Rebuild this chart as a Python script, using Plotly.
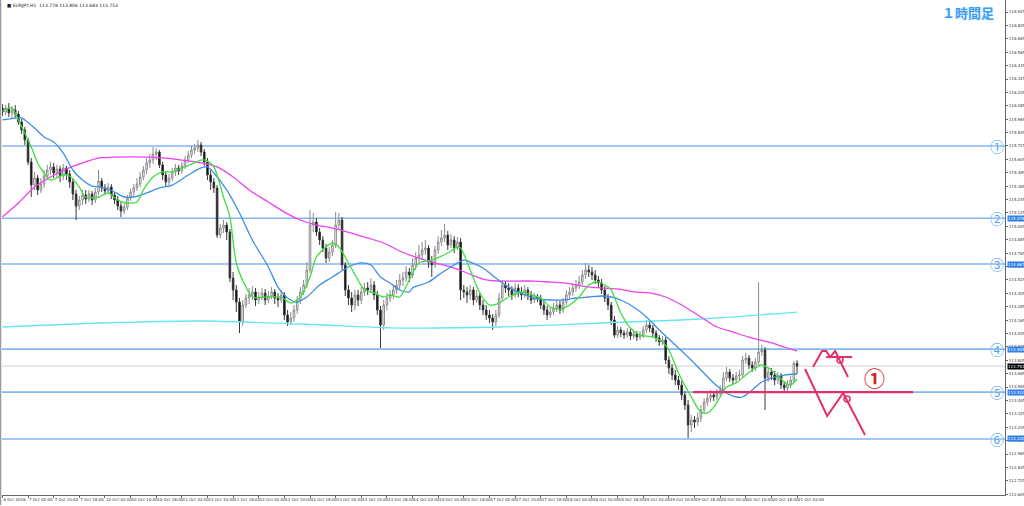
import plotly.graph_objects as go

title_text = "■ EURJPY,H1  113.778 113.806 113.683 113.753"

opens = [116.065, 116.029, 116.065, 116.021, 116.047, 116.012, 115.940, 115.868, 115.779, 115.581,
115.375, 115.438, 115.331, 115.384, 115.456, 115.510, 115.537, 115.483, 115.519, 115.456,
115.528, 115.474, 115.402, 115.295, 115.187, 115.241, 115.286, 115.250, 115.295, 115.241,
115.313, 115.411, 115.349, 115.322, 115.357, 115.286, 115.241, 115.187, 115.142, 115.178,
115.259, 115.313, 115.349, 115.384, 115.447, 115.510, 115.573, 115.599, 115.653, 115.671,
115.555, 115.465, 115.402, 115.438, 115.492, 115.528, 115.501, 115.546, 115.599, 115.644,
115.689, 115.707, 115.734, 115.671, 115.581, 115.465, 115.402, 115.349, 114.927, 114.990,
115.017, 114.954, 114.542, 114.435, 114.327, 114.148, 114.300, 114.363, 114.390, 114.417,
114.345, 114.372, 114.408, 114.345, 114.381, 114.417, 114.363, 114.345, 114.390, 114.211,
114.148, 114.184, 114.255, 114.345, 114.417, 114.479, 114.614, 115.017, 115.044, 114.954,
114.883, 114.811, 114.721, 114.775, 114.838, 115.017, 115.062, 114.659, 114.435, 114.363,
114.300, 114.390, 114.345, 114.417, 114.453, 114.435, 114.479, 114.390, 114.255, 114.121,
114.300, 114.363, 114.390, 114.435, 114.479, 114.524, 114.542, 114.596, 114.569, 114.659,
114.721, 114.748, 114.793, 114.811, 114.685, 114.659, 114.793, 114.865, 114.901, 114.927,
114.838, 114.883, 114.811, 114.865, 114.435, 114.417, 114.390, 114.435, 114.345, 114.381,
114.300, 114.255, 114.211, 114.184, 114.148, 114.211, 114.363, 114.479, 114.453, 114.435,
114.390, 114.453, 114.417, 114.390, 114.435, 114.390, 114.345, 114.372, 114.363, 114.300,
114.255, 114.211, 114.237, 114.273, 114.300, 114.255, 114.327, 114.390, 114.417, 114.453,
114.479, 114.506, 114.569, 114.614, 114.596, 114.569, 114.524, 114.497, 114.435, 114.363,
114.300, 114.166, 114.031, 114.076, 114.049, 114.031, 114.058, 114.022, 114.040, 114.013,
114.031, 114.076, 114.121, 114.094, 114.049, 114.005, 113.969, 113.987, 113.807, 113.736,
113.673, 113.628, 113.583, 113.494, 113.404, 113.225, 113.270, 113.252, 113.288, 113.359,
113.431, 113.467, 113.494, 113.476, 113.512, 113.539, 113.646, 113.700, 113.646, 113.628,
113.664, 113.673, 113.807, 113.825, 113.763, 113.736, 113.789, 113.879, 113.897, 113.646,
113.700, 113.673, 113.628, 113.664, 113.583, 113.557, 113.592, 113.628, 113.778]

highs = [116.101, 116.092, 116.110, 116.083, 116.092, 116.038, 115.967, 115.895, 115.797, 115.617,
115.492, 115.465, 115.438, 115.510, 115.555, 115.581, 115.573, 115.555, 115.546, 115.564,
115.546, 115.510, 115.438, 115.331, 115.277, 115.331, 115.331, 115.331, 115.322, 115.349,
115.510, 115.438, 115.384, 115.393, 115.384, 115.313, 115.277, 115.223, 115.214, 115.286,
115.340, 115.384, 115.438, 115.492, 115.546, 115.617, 115.653, 115.716, 115.707, 115.689,
115.581, 115.501, 115.474, 115.528, 115.564, 115.555, 115.581, 115.635, 115.680, 115.725,
115.743, 115.779, 115.761, 115.698, 115.617, 115.510, 115.438, 115.375, 115.026, 115.062,
115.044, 114.981, 114.596, 114.479, 114.363, 114.345, 114.399, 114.453, 114.470, 114.453,
114.417, 114.453, 114.444, 114.426, 114.461, 114.444, 114.408, 114.435, 114.417, 114.255,
114.237, 114.300, 114.381, 114.461, 114.524, 114.685, 115.151, 115.125, 115.080, 114.990,
114.918, 114.847, 114.820, 114.883, 115.133, 115.125, 115.089, 114.685, 114.479, 114.417,
114.435, 114.435, 114.461, 114.497, 114.506, 114.542, 114.515, 114.426, 114.291, 114.345,
114.408, 114.435, 114.479, 114.524, 114.578, 114.596, 114.650, 114.632, 114.721, 114.775,
114.838, 114.865, 114.883, 114.838, 114.739, 114.829, 114.918, 114.972, 115.026, 114.963,
114.936, 114.918, 114.909, 114.901, 114.479, 114.461, 114.479, 114.461, 114.435, 114.417,
114.345, 114.300, 114.255, 114.220, 114.255, 114.408, 114.524, 114.515, 114.497, 114.470,
114.497, 114.488, 114.461, 114.479, 114.461, 114.426, 114.408, 114.399, 114.390, 114.336,
114.291, 114.273, 114.318, 114.345, 114.336, 114.363, 114.435, 114.461, 114.497, 114.524,
114.560, 114.614, 114.677, 114.659, 114.641, 114.614, 114.560, 114.533, 114.470, 114.399,
114.327, 114.202, 114.112, 114.103, 114.076, 114.094, 114.085, 114.067, 114.067, 114.067,
114.112, 114.166, 114.148, 114.121, 114.076, 114.031, 114.022, 114.013, 113.843, 113.772,
113.718, 113.664, 113.619, 113.530, 113.449, 113.315, 113.306, 113.341, 113.404, 113.467,
113.512, 113.539, 113.530, 113.548, 113.583, 113.700, 113.745, 113.727, 113.682, 113.700,
113.718, 113.843, 113.870, 113.852, 113.798, 113.825, 114.506, 113.942, 113.924, 113.736,
113.736, 113.709, 113.700, 113.691, 113.619, 113.628, 113.664, 113.800, 113.806]

lows = [115.994, 116.003, 115.985, 115.976, 115.976, 115.913, 115.832, 115.734, 115.555, 115.268,
115.331, 115.286, 115.304, 115.349, 115.420, 115.465, 115.438, 115.447, 115.402, 115.420,
115.420, 115.349, 115.241, 115.062, 115.151, 115.196, 115.205, 115.223, 115.196, 115.214,
115.286, 115.313, 115.286, 115.295, 115.250, 115.205, 115.151, 115.089, 115.116, 115.151,
115.232, 115.277, 115.322, 115.357, 115.420, 115.474, 115.528, 115.564, 115.599, 115.528,
115.420, 115.366, 115.375, 115.411, 115.456, 115.465, 115.474, 115.519, 115.573, 115.617,
115.653, 115.671, 115.635, 115.546, 115.420, 115.331, 115.304, 114.901, 114.901, 114.945,
114.883, 114.506, 114.345, 114.237, 114.049, 114.112, 114.273, 114.309, 114.345, 114.291,
114.309, 114.345, 114.300, 114.318, 114.354, 114.309, 114.282, 114.318, 114.166, 114.112,
114.121, 114.148, 114.220, 114.309, 114.390, 114.453, 114.587, 114.954, 114.918, 114.838,
114.775, 114.677, 114.685, 114.739, 114.811, 114.972, 114.614, 114.381, 114.300, 114.237,
114.255, 114.291, 114.309, 114.381, 114.390, 114.408, 114.345, 114.211, 113.915, 114.076,
114.255, 114.327, 114.354, 114.399, 114.435, 114.470, 114.506, 114.506, 114.542, 114.614,
114.685, 114.703, 114.748, 114.632, 114.551, 114.632, 114.757, 114.829, 114.865, 114.793,
114.811, 114.766, 114.793, 114.345, 114.363, 114.318, 114.345, 114.300, 114.318, 114.255,
114.211, 114.166, 114.139, 114.076, 114.112, 114.184, 114.336, 114.408, 114.381, 114.345,
114.363, 114.372, 114.345, 114.363, 114.345, 114.309, 114.318, 114.327, 114.264, 114.211,
114.166, 114.184, 114.211, 114.237, 114.220, 114.229, 114.300, 114.363, 114.381, 114.417,
114.444, 114.479, 114.533, 114.551, 114.524, 114.488, 114.453, 114.399, 114.327, 114.255,
114.121, 114.005, 114.005, 114.013, 113.996, 114.005, 113.987, 113.996, 113.978, 113.987,
114.005, 114.049, 114.058, 114.013, 113.969, 113.933, 113.942, 113.772, 113.682, 113.628,
113.583, 113.539, 113.449, 113.359, 113.109, 113.162, 113.198, 113.216, 113.252, 113.333,
113.395, 113.431, 113.440, 113.449, 113.485, 113.521, 113.619, 113.610, 113.592, 113.601,
113.628, 113.646, 113.772, 113.727, 113.700, 113.709, 113.754, 113.843, 113.359, 113.610,
113.628, 113.583, 113.592, 113.548, 113.521, 113.530, 113.557, 113.601, 113.683]

closes = [116.029, 116.065, 116.021, 116.047, 116.012, 115.940, 115.868, 115.779, 115.581, 115.375,
115.438, 115.331, 115.384, 115.456, 115.510, 115.537, 115.483, 115.519, 115.456, 115.528,
115.474, 115.402, 115.295, 115.187, 115.241, 115.286, 115.250, 115.295, 115.241, 115.313,
115.411, 115.349, 115.322, 115.357, 115.286, 115.241, 115.187, 115.142, 115.178, 115.259,
115.313, 115.349, 115.384, 115.447, 115.510, 115.573, 115.599, 115.653, 115.671, 115.555,
115.465, 115.402, 115.438, 115.492, 115.528, 115.501, 115.546, 115.599, 115.644, 115.689,
115.707, 115.734, 115.671, 115.581, 115.465, 115.402, 115.349, 114.927, 114.990, 115.017,
114.954, 114.542, 114.435, 114.327, 114.148, 114.300, 114.363, 114.390, 114.417, 114.345,
114.372, 114.408, 114.345, 114.381, 114.417, 114.363, 114.345, 114.390, 114.211, 114.148,
114.184, 114.255, 114.345, 114.417, 114.479, 114.614, 115.017, 115.044, 114.954, 114.883,
114.811, 114.721, 114.775, 114.838, 115.017, 115.062, 114.659, 114.435, 114.363, 114.300,
114.390, 114.345, 114.417, 114.453, 114.435, 114.479, 114.390, 114.255, 114.121, 114.300,
114.363, 114.390, 114.435, 114.479, 114.524, 114.542, 114.596, 114.569, 114.659, 114.721,
114.748, 114.793, 114.811, 114.685, 114.659, 114.793, 114.865, 114.901, 114.927, 114.838,
114.883, 114.811, 114.865, 114.435, 114.417, 114.390, 114.435, 114.345, 114.381, 114.300,
114.255, 114.211, 114.184, 114.148, 114.211, 114.363, 114.479, 114.453, 114.435, 114.390,
114.453, 114.417, 114.390, 114.435, 114.390, 114.345, 114.372, 114.363, 114.300, 114.255,
114.211, 114.237, 114.273, 114.300, 114.255, 114.327, 114.390, 114.417, 114.453, 114.479,
114.506, 114.569, 114.614, 114.596, 114.569, 114.524, 114.497, 114.435, 114.363, 114.300,
114.166, 114.031, 114.076, 114.049, 114.031, 114.058, 114.022, 114.040, 114.013, 114.031,
114.076, 114.121, 114.094, 114.049, 114.005, 113.969, 113.987, 113.807, 113.736, 113.673,
113.628, 113.583, 113.494, 113.404, 113.225, 113.270, 113.252, 113.288, 113.359, 113.431,
113.467, 113.494, 113.476, 113.512, 113.539, 113.646, 113.700, 113.646, 113.628, 113.664,
113.673, 113.807, 113.825, 113.763, 113.736, 113.789, 113.879, 113.897, 113.646, 113.700,
113.673, 113.628, 113.664, 113.583, 113.557, 113.592, 113.628, 113.778, 113.753]

bars = list(range(len(closes)))

x_tick_bars = list(range(0, 249, 8))
x_tick_labels = ["6 Oct 2016", "7 Oct 02:00", "7 Oct 10:00", "7 Oct 18:00",
                 "10 Oct 02:00", "10 Oct 10:00", "10 Oct 18:00",
                 "11 Oct 02:00", "11 Oct 10:00", "11 Oct 18:00",
                 "12 Oct 02:00", "12 Oct 10:00", "12 Oct 18:00",
                 "13 Oct 02:00", "13 Oct 10:00", "13 Oct 18:00",
                 "14 Oct 02:00", "14 Oct 10:00", "14 Oct 18:00",
                 "17 Oct 02:00", "17 Oct 10:00", "17 Oct 18:00",
                 "18 Oct 02:00", "18 Oct 10:00", "18 Oct 18:00",
                 "19 Oct 02:00", "19 Oct 10:00", "19 Oct 18:00",
                 "20 Oct 02:00", "20 Oct 10:00", "20 Oct 18:00",
                 "21 Oct 02:00"]

y_tick_vals = [116.925, 116.805, 116.685, 116.565, 116.445, 116.325, 116.205, 116.085,
               115.965, 115.845, 115.725, 115.605, 115.485, 115.365, 115.245, 115.125,
               115.005, 114.885, 114.765, 114.645, 114.525, 114.405, 114.285, 114.165,
               114.045, 113.925, 113.805, 113.685, 113.565, 113.445, 113.325, 113.205,
               113.085, 112.965, 112.845, 112.725, 112.605]

# moving averages (bar index, value)
ma_green_bars = [0, 3, 5, 9, 11, 13, 15, 19, 21, 24, 26, 30, 33, 36, 39, 42, 44, 47, 50, 53, 56, 60,
                 62, 64, 66, 69, 71, 73, 76, 78, 83, 87, 90, 93, 96, 98, 101, 103, 105, 108, 111,
                 113, 116, 119, 121, 124, 127, 130, 134, 139, 142, 143, 146, 149, 152, 155, 158,
                 162, 165, 168, 171, 174, 177, 180, 183, 186, 189, 190, 193, 196, 199, 203, 206,
                 208, 211, 215, 218, 220, 222, 224, 226, 229, 232, 235, 237, 240, 244, 246, 248]
ma_green_vals = [116.038, 116.065, 115.958, 115.716, 115.573, 115.483, 115.420, 115.465, 115.456,
                 115.357, 115.268, 115.268, 115.304, 115.241, 115.214, 115.223, 115.331, 115.447,
                 115.492, 115.492, 115.528, 115.573, 115.599, 115.590, 115.537, 115.268, 115.089,
                 114.677, 114.461, 114.372, 114.372, 114.372, 114.318, 114.372, 114.551, 114.730,
                 114.820, 114.856, 114.820, 114.677, 114.524, 114.435, 114.408, 114.372, 114.390,
                 114.372, 114.524, 114.677, 114.703, 114.766, 114.820, 114.811, 114.614, 114.408,
                 114.300, 114.318, 114.372, 114.417, 114.390, 114.363, 114.282, 114.264, 114.300,
                 114.372, 114.479, 114.506, 114.461, 114.435, 114.229, 114.094, 114.031, 114.013,
                 113.969, 113.897, 113.691, 113.476, 113.341, 113.333, 113.386, 113.476, 113.565,
                 113.601, 113.673, 113.736, 113.763, 113.718, 113.610, 113.583, 113.637]

ma_blue_bars = [0, 6, 7, 10, 13, 16, 19, 22, 25, 28, 31, 35, 38, 41, 45, 49, 53, 58, 62, 64, 66, 70,
                74, 78, 83, 86, 89, 92, 95, 99, 103, 108, 112, 115, 118, 121, 124, 127, 128, 133,
                137, 141, 144, 146, 150, 154, 158, 163, 167, 171, 175, 179, 183, 187, 190, 193,
                197, 201, 205, 209, 214, 218, 222, 226, 229, 231, 234, 237, 241, 244, 248]
ma_blue_vals = [115.958, 115.976, 115.958, 115.886, 115.806, 115.761, 115.662, 115.510, 115.420,
                115.366, 115.357, 115.313, 115.268, 115.268, 115.304, 115.349, 115.375, 115.465,
                115.528, 115.537, 115.483, 115.331, 115.125, 114.883, 114.641, 114.461, 114.363,
                114.327, 114.372, 114.479, 114.551, 114.641, 114.677, 114.659, 114.551, 114.497,
                114.435, 114.417, 114.453, 114.506, 114.587, 114.659, 114.703, 114.685, 114.632,
                114.542, 114.461, 114.390, 114.354, 114.345, 114.345, 114.363, 114.372, 114.381,
                114.372, 114.345, 114.282, 114.193, 114.076, 113.969, 113.834, 113.718, 113.601,
                113.512, 113.476, 113.476, 113.539, 113.610, 113.655, 113.673, 113.682]

ma_magenta_bars = [0, 5, 10, 15, 20, 25, 30, 36, 46, 51, 56, 62, 67, 72, 77, 83, 88, 93, 98, 103,
                   109, 114, 119, 124, 129, 134, 140, 145, 150, 155, 161, 166, 171, 176, 181, 187,
                   192, 197, 202, 207, 212, 218, 223, 228, 233, 239, 244, 248]
ma_magenta_vals = [115.089, 115.214, 115.357, 115.447, 115.519, 115.573, 115.617, 115.626, 115.626,
                   115.617, 115.599, 115.573, 115.537, 115.447, 115.331, 115.223, 115.133, 115.062,
                   115.017, 114.990, 114.945, 114.901, 114.856, 114.784, 114.730, 114.685, 114.641,
                   114.587, 114.533, 114.515, 114.515, 114.515, 114.506, 114.497, 114.470, 114.453,
                   114.444, 114.417, 114.408, 114.372, 114.300, 114.193, 114.103, 114.058, 114.013,
                   113.969, 113.924, 113.888]

ma_cyan_bars = [0, 31, 62, 93, 124, 155, 187, 218, 248]
ma_cyan_vals = [114.103, 114.139, 114.157, 114.130, 114.094, 114.103, 114.139, 114.175, 114.237]

h_levels = [115.725, 115.078, 114.667, 113.905, 113.520, 113.100]
h_marks = ["①", "②", "③", "④", "⑤", "⑥"]
h_boxed = [False, True, True, True, True, True]
current_price = 113.753

red_line_bars = [215.5, 284.2]
red_line_level = 113.520
zig_up_bars = [253.0, 255.8, 257.1, 258.3, 259.9, 263.9]
zig_up_vals = [113.745, 113.888, 113.888, 113.834, 113.888, 113.655]
zig_up_flat_bars = [257.1, 265.2]
zig_up_flat_val = 113.834
zig_dn_bars = [250.5, 257.4, 262.4, 269.2]
zig_dn_vals = [113.727, 113.306, 113.512, 113.135]
circle_bars = [261.4, 263.6]
circle_vals = [113.807, 113.458]

PINK = "#e2306c"
HBLUE = "#84b6f4"

fig = go.Figure()

fig.add_trace(go.Candlestick(
    x=bars, open=opens, high=highs, low=lows, close=closes,
    increasing=dict(line=dict(color="#8c8c8c", width=1), fillcolor="white"),
    decreasing=dict(line=dict(color="#3a3a3a", width=1), fillcolor="black"),
    whiskerwidth=0, hoverinfo="skip", showlegend=False))

for bx, vy, col in [(ma_cyan_bars, ma_cyan_vals, "#66e6f2"),
                    (ma_magenta_bars, ma_magenta_vals, "#f040ee"),
                    (ma_blue_bars, ma_blue_vals, "#3f8fe4"),
                    (ma_green_bars, ma_green_vals, "#3ede3e")]:
    fig.add_trace(go.Scatter(x=bx, y=vy, mode="lines",
                             line=dict(color=col, width=1.3, shape="spline", smoothing=0.8),
                             hoverinfo="skip", showlegend=False))

# drawn patterns
fig.add_trace(go.Scatter(x=zig_up_bars, y=zig_up_vals, mode="lines",
                         line=dict(color=PINK, width=2), showlegend=False, hoverinfo="skip"))
fig.add_trace(go.Scatter(x=zig_up_flat_bars, y=[zig_up_flat_val] * 2, mode="lines",
                         line=dict(color=PINK, width=2), showlegend=False, hoverinfo="skip"))
fig.add_trace(go.Scatter(x=zig_dn_bars, y=zig_dn_vals, mode="lines",
                         line=dict(color=PINK, width=2), showlegend=False, hoverinfo="skip"))
fig.add_trace(go.Scatter(x=red_line_bars, y=[red_line_level] * 2, mode="lines",
                         line=dict(color=PINK, width=2.2), showlegend=False, hoverinfo="skip"))
fig.add_trace(go.Scatter(x=circle_bars, y=circle_vals, mode="markers",
                         marker=dict(symbol="circle-open", size=6, color=PINK,
                                     line=dict(width=1.5, color=PINK)),
                         showlegend=False, hoverinfo="skip"))

shapes = []
for lv in h_levels:
    shapes.append(dict(type="line", xref="paper", x0=0, x1=1, yref="y", y0=lv, y1=lv,
                       line=dict(color=HBLUE, width=1.6), layer="below"))
shapes.append(dict(type="line", xref="paper", x0=0, x1=1, yref="y", y0=current_price,
                   y1=current_price, line=dict(color="#cfcfcf", width=1), layer="below"))
shapes.append(dict(type="line", xref="paper", x0=-0.0015, x1=-0.0015, yref="paper", y0=-0.02, y1=1,
                   line=dict(color="#9a9a9a", width=1.5)))

annotations = []
annotations.append(dict(text=title_text, xref="paper", yref="paper", x=0.003, y=0.997,
                        xanchor="left", yanchor="top", showarrow=False,
                        font=dict(family="DejaVu Sans", size=4.5, color="#222")))
for lv, mk, bx in zip(h_levels, h_marks, h_boxed):
    annotations.append(dict(text=mk, xref="paper", yref="y", x=0.9925, y=lv,
                            xanchor="center", yanchor="middle", showarrow=False,
                            font=dict(family="Noto Sans CJK JP", size=14, color="#4aa6f2",
                                      shadow="0px 0px 2px white")))
    if bx:
        annotations.append(dict(text=f"{lv:.3f}", xref="paper", yref="y", x=1.0015, y=lv,
                                xanchor="left", yanchor="middle", showarrow=False,
                                bgcolor="#2f7fe8", borderpad=0,
                                font=dict(family="DejaVu Sans", size=4, color="white")))
annotations.append(dict(text=f"{current_price:.3f}", xref="paper", yref="y", x=1.0015,
                        y=current_price, xanchor="left", yanchor="middle", showarrow=False,
                        bgcolor="black", borderpad=0,
                        font=dict(family="DejaVu Sans", size=4, color="white")))
annotations.append(dict(text="①", xref="paper", yref="paper", x=0.870, y=1 - 377 / 495,
                        xanchor="center", yanchor="middle", showarrow=False,
                        font=dict(family="Noto Sans CJK JP", size=21, color="#d61f26",
                                  weight="bold", shadow="0px 0px 2px white")))
annotations.append(dict(text="１時間足", xref="paper", yref="paper", x=0.963, y=1 - 13 / 495,
                        xanchor="center", yanchor="middle", showarrow=False,
                        font=dict(family="Noto Sans CJK JP", size=13, color="#3d9ff0",
                                  weight="bold", shadow="0px 0px 2px #cfe6ff")))

fig.update_layout(
    width=1024, height=506,
    margin=dict(l=2, r=19, t=0, b=11),
    paper_bgcolor="white", plot_bgcolor="white",
    showlegend=False,
    shapes=shapes, annotations=annotations,
    xaxis=dict(range=[-0.125, 312.9], rangeslider=dict(visible=False),
               showgrid=False, zeroline=False, showline=True, linecolor="#666", linewidth=1,
               ticks="outside", ticklen=2, tickcolor="#666", tickwidth=1,
               tickvals=x_tick_bars, ticktext=x_tick_labels, tickangle=0,
               ticklabelposition="outside right", automargin=False,
               tickfont=dict(family="DejaVu Sans", size=4, color="#333")),
    yaxis=dict(range=[112.598, 117.033], side="right", showgrid=False, zeroline=False,
               showline=True, linecolor="#666", linewidth=1, ticks="outside", ticklen=2,
               tickcolor="#666", tickvals=y_tick_vals, tickformat=".3f", automargin=False,
               tickfont=dict(family="DejaVu Sans", size=4, color="#333")),
)

fig.write_html("out.html", config={"displayModeBar": False},
               post_script="document.body.style.margin='0px';document.body.style.overflow='hidden';")
